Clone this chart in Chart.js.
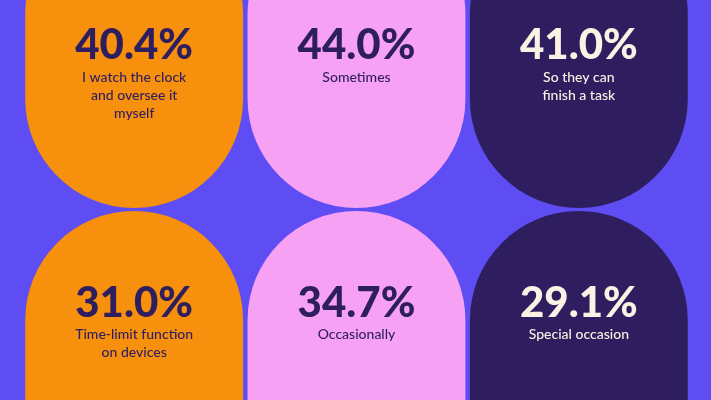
<!DOCTYPE html>
<html><head><meta charset="utf-8">
<script src="https://cdn.jsdelivr.net/npm/chart.js@4"></script>
<style>html,body{margin:0;padding:0;background:#5e4df2;}#c{display:block}</style>
</head><body>
<div style="width:711px;height:400px"><canvas id="c"></canvas></div>
<script>
const columns = ["A","B","C"];
const topValues = [40.4, 44.0, 41.0];
const topLabels = [["I watch the clock","and oversee it","myself"],["Sometimes"],["So they can","finish a task"]];
const bottomValues = [31.0, 34.7, 29.1];
const bottomLabels = [["Time-limit function","on devices"],["Occasionally"],["Special occasion"]];
const fills = ["#f7900c","#f7a1f5","#2f1e5f"];
const inks = ["#2f1e5f","#2f1e5f","#fbf1e4"];

const textPlugin = {
  id:'txt',
  afterDatasetsDraw(chart){
    const ctx = chart.ctx;
    const rows = [{vals:topValues, labs:topLabels, vy:45, ly:77},{vals:bottomValues, labs:bottomLabels, vy:303, ly:334}];
    rows.forEach((r,ri)=>{
      const meta = chart.getDatasetMeta(ri);
      meta.data.forEach((bar,i)=>{
        ctx.save();
        ctx.fillStyle = inks[i];
        ctx.textAlign='center'; ctx.textBaseline='middle';
        ctx.font = '900 42px Lato';
        ctx.fillText(r.vals[i].toFixed(1)+'%', bar.x, r.vy);
        ctx.font = '500 14px Lato';
        r.labs[i].forEach((l,k)=>ctx.fillText(l, bar.x, r.ly + k*18));
        ctx.restore();
      });
    });
  }
};

new Chart(document.getElementById('c'),{
  type:'bar',
  data:{labels:columns,datasets:[
    {data:columns.map(()=>[-95,208]),backgroundColor:fills,grouped:false,borderRadius:109,borderSkipped:false,barPercentage:0.98,categoryPercentage:1},
    {data:columns.map(()=>[211,510]),backgroundColor:fills,grouped:false,borderRadius:109,borderSkipped:false,barPercentage:0.98,categoryPercentage:1}
  ]},
  options:{responsive:true,maintainAspectRatio:false,animation:false,
    layout:{padding:{left:23,right:21,top:0,bottom:0}},
    plugins:{legend:{display:false},tooltip:{enabled:false}},
    scales:{x:{display:false},y:{display:false,reverse:true,min:0,max:400}}},
  plugins:[textPlugin]
});
</script>
</body></html>
